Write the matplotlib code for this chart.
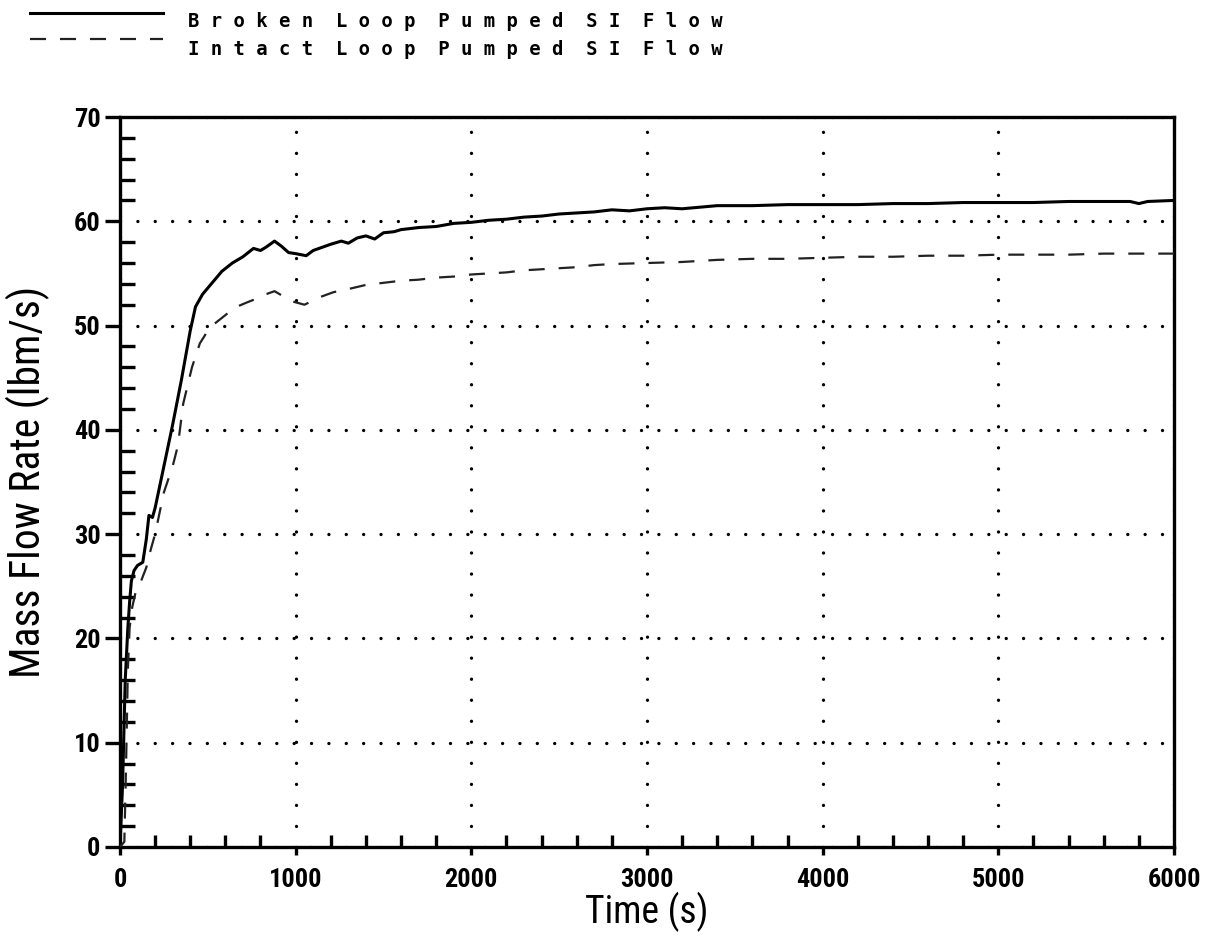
import matplotlib
matplotlib.use('Agg')
import matplotlib.pyplot as plt
from matplotlib.lines import Line2D
from matplotlib.ticker import MultipleLocator

plt.rcParams['font.family'] = ['Roboto Condensed', 'Liberation Sans', 'DejaVu Sans']

# Broken loop pumped SI flow (lbm/s)
time_broken = [0, 15, 30, 45, 55, 65, 80, 100, 130, 150, 165, 185, 200, 250, 300,
               350, 400, 430, 470, 520, 580, 640, 700, 760, 800, 830, 880, 920, 960,
               1000, 1060, 1100, 1150, 1200, 1260, 1300, 1350, 1400, 1450, 1500, 1560,
               1600, 1700, 1800, 1900, 2000, 2100, 2200, 2300, 2400, 2500, 2600, 2700,
               2800, 2900, 3000, 3100, 3200, 3400, 3600, 3800, 4000, 4200, 4400, 4600,
               4800, 5000, 5200, 5400, 5600, 5750, 5800, 5850, 6000]
flow_broken = [0, 6, 16, 21, 23.5, 25.5, 26.5, 27, 27.3, 29.5, 31.8, 31.6, 32.5, 36.5, 40.5,
               44.8, 49.5, 51.8, 53.0, 54.0, 55.2, 56.0, 56.6, 57.4, 57.2, 57.5, 58.1, 57.6, 57.0,
               56.9, 56.7, 57.2, 57.5, 57.8, 58.1, 57.9, 58.4, 58.6, 58.3, 58.9, 59.0,
               59.2, 59.4, 59.5, 59.8, 59.9, 60.1, 60.2, 60.4, 60.5, 60.7, 60.8, 60.9,
               61.1, 61.0, 61.2, 61.3, 61.2, 61.5, 61.5, 61.6, 61.6, 61.6, 61.7, 61.7,
               61.8, 61.8, 61.8, 61.9, 61.9, 61.9, 61.7, 61.9, 62.0]

# Intact loop pumped SI flow (lbm/s)
time_intact = [0, 25, 35, 45, 55, 70, 90, 120, 150, 175, 200, 250, 300, 330, 360, 410,
               455, 500, 540, 600, 650, 720, 780, 830, 880, 930, 985, 1050, 1100, 1150,
               1215, 1300, 1400, 1500, 1600, 1700, 1800, 1900, 2000, 2100, 2200, 2300,
               2400, 2500, 2600, 2700, 2800, 3000, 3200, 3400, 3600, 3800, 4000, 4200,
               4400, 4600, 4800, 5000, 5200, 5400, 5600, 5800, 6000]
flow_intact = [0, 0.5, 8, 17, 21, 23, 24.5, 25.5, 26.8, 28.5, 30.0, 34.0, 36.5, 38.5, 42.5, 46.0,
               48.3, 49.5, 50.2, 51.0, 51.7, 52.2, 52.6, 53.0, 53.3, 52.8, 52.3, 52.0, 52.4, 52.8,
               53.2, 53.5, 53.9, 54.1, 54.3, 54.4, 54.6, 54.7, 54.9, 55.0, 55.1, 55.3,
               55.4, 55.5, 55.6, 55.8, 55.9, 56.0, 56.1, 56.3, 56.4, 56.4, 56.5, 56.6,
               56.6, 56.7, 56.7, 56.8, 56.8, 56.8, 56.9, 56.9, 56.9]

label_broken = 'Broken Loop Pumped SI Flow'
label_intact = 'Intact Loop Pumped SI Flow'


def spaced(s):
    # letters spread out like the old plotter legend
    return '  '.join(' '.join(w) for w in s.split())


fig = plt.figure(figsize=(12.19, 9.49), dpi=100)
ax = fig.add_axes([0.0984, 0.1075, 0.8647, 0.7692])

dash_style = (0, (7.2, 6.3))
ax.plot(time_broken, flow_broken, color='black', lw=2.2, zorder=3)
ax.plot(time_intact, flow_intact, color='#222222', lw=1.6, linestyle=dash_style, zorder=3)

ax.set_xlim(0, 6000)
ax.set_ylim(0, 70)
ax.xaxis.set_major_locator(MultipleLocator(1000))
ax.xaxis.set_minor_locator(MultipleLocator(200))
ax.yaxis.set_major_locator(MultipleLocator(10))
ax.yaxis.set_minor_locator(MultipleLocator(2))

# dotted grid
ax.grid(axis='y', which='major', color='black', lw=2.4, linestyle=(0, (0.01, 5.2)),
        dash_capstyle='round')
ax.grid(axis='x', which='major', color='black', lw=2.4, linestyle=(0, (0.01, 6.3)),
        dash_capstyle='round')
ax.set_axisbelow(True)

for sp in ax.spines.values():
    sp.set_linewidth(2.4)

ax.tick_params(axis='y', which='major', direction='out', length=11, width=2.4, labelsize=19, pad=3)
ax.tick_params(axis='y', which='minor', direction='in', length=11, width=2.4)
ax.tick_params(axis='x', which='major', direction='out', length=6, width=2.4, labelsize=19, pad=9)
ax.tick_params(axis='x', which='minor', direction='in', length=9, width=2.4)
plt.setp(ax.get_xticklabels() + ax.get_yticklabels(), fontweight='bold')

ax.set_xlabel('Time (s)', fontsize=27)
ax.set_ylabel('Mass Flow Rate (lbm/s)', fontsize=30)
ax.xaxis.set_label_coords(0.5, -0.062)
ax.yaxis.set_label_coords(-0.066, 0.5)

# legend at the top left, drawn like the plotter key
fig.add_artist(Line2D([30 / 1219, 163 / 1219], [1 - 13 / 949, 1 - 13 / 949],
                      color='black', lw=2.2))
fig.add_artist(Line2D([30 / 1219, 163 / 1219], [1 - 39 / 949, 1 - 39 / 949],
                      color='#222222', lw=1.6, linestyle=(0, (7.2, 6.3))))
fig.text(188 / 1219, 1 - 27 / 949, spaced(label_broken), family='DejaVu Sans Mono',
         fontweight='bold', fontsize=13.6, va='baseline', ha='left')
fig.text(188 / 1219, 1 - 55 / 949, spaced(label_intact), family='DejaVu Sans Mono',
         fontweight='bold', fontsize=13.6, va='baseline', ha='left')

fig.savefig('out.png', dpi=100)
plt.close(fig)
